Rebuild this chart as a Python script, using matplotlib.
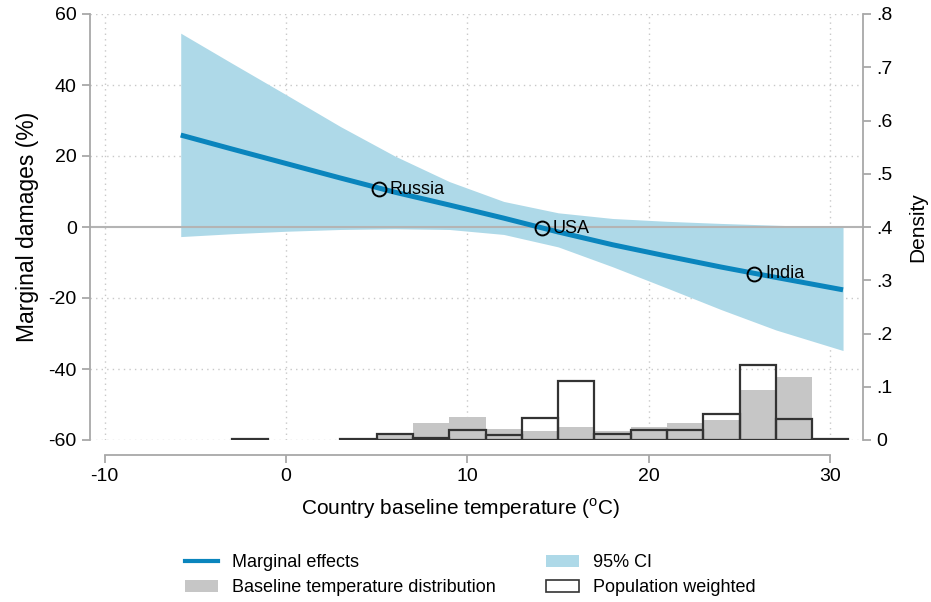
import matplotlib
matplotlib.use("Agg")
import matplotlib.pyplot as plt
from matplotlib.lines import Line2D
from matplotlib.patches import Patch

plt.rcParams['font.family'] = ['Liberation Sans', 'DejaVu Sans']
plt.rcParams['mathtext.fontset'] = 'custom'
plt.rcParams['mathtext.rm'] = 'Liberation Sans'
plt.rcParams['axes.unicode_minus'] = False

# marginal effect curve and 95% CI
temp = [-5.8, -3, 0, 3, 6, 9, 12, 15, 18, 21, 24, 27, 30.7]
effect = [25.9, 22.0, 17.9, 13.8, 9.8, 6.2, 2.5, -1.4, -5.0, -8.2, -11.3, -14.2, -17.7]
ci_upper = [54.6, 46.2, 37.3, 28.3, 20.0, 12.8, 7.2, 4.0, 2.4, 1.6, 1.0, 0.5, -0.1]
ci_lower = [-2.7, -1.9, -1.2, -0.7, -0.5, -0.7, -2.1, -5.6, -11.2, -17.2, -23.3, -29.0, -34.8]

countries = ['Russia', 'USA', 'India']
country_temp = [5.1, 14.1, 25.8]
country_effect = [10.6, -0.4, -13.1]

# histograms, bins of 2 degrees from -3 to 31
bin_left = [-3, -1, 1, 3, 5, 7, 9, 11, 13, 15, 17, 19, 21, 23, 25, 27, 29]
dens_countries = [0.003, 0, 0, 0.003, 0.011, 0.032, 0.044, 0.021, 0.017, 0.024,
                  0.017, 0.024, 0.032, 0.037, 0.093, 0.118, 0.002]
dens_population = [0.002, 0, 0, 0.002, 0.011, 0.004, 0.018, 0.009, 0.042, 0.110,
                   0.011, 0.018, 0.019, 0.048, 0.141, 0.039, 0.002]

blue = '#0a85bd'
ci_blue = '#aed9e8'
axis_gray = '#a8a8a8'
grid_gray = '#c8c8c8'

fig = plt.figure(figsize=(9.31, 6.02), dpi=100)
ax = fig.add_axes([90 / 931, 1 - 440 / 602, (863 - 90) / 931, (440 - 14) / 602])

ax.fill_between(temp, ci_lower, ci_upper, color=ci_blue, lw=0, zorder=1)
ax.axhline(0, color='#b4b4b4', lw=1.5, zorder=2)
ax.plot(temp, effect, color=blue, lw=3.6, zorder=3, solid_capstyle='butt')
ax.plot(country_temp, country_effect, 'o', ms=10, mfc='none', mec='black', mew=1.4, zorder=4)
for name, t, e in zip(countries, country_temp, country_effect):
    ax.annotate(name, (t, e), xytext=(8, 0), textcoords='offset points',
                ha='left', va='center', fontsize=13, zorder=5)

ax.set_xlim(-10.8, 31.8)
ax.set_ylim(-60, 60)
ax.set_xticks([-10, 0, 10, 20, 30])
ax.set_yticks([-60, -40, -20, 0, 20, 40, 60])
for y in [-60, -40, -20, 20, 40, 60]:
    ax.axhline(y, color=grid_gray, lw=1, ls=(0, (1, 3)), zorder=0)
for x in [-10, 0, 10, 20, 30]:
    ax.axvline(x, color=grid_gray, lw=1, ls=(0, (1, 3)), zorder=0)

ax.spines['top'].set_visible(False)
ax.spines['right'].set_visible(False)
ax.spines['bottom'].set_position(('outward', 11))
ax.spines['bottom'].set_bounds(-10, 30)
for s in ['left', 'bottom']:
    ax.spines[s].set_color(axis_gray)
    ax.spines[s].set_linewidth(1.3)
ax.tick_params(direction='out', length=6, width=1.3, color=axis_gray, labelsize=14)
ax.set_xlabel('Country baseline temperature ($^{\\mathrm{o}}$C)', fontsize=15, labelpad=8)
ax.xaxis.label.set_x(0.479)
ax.set_ylabel('Marginal damages (%)', fontsize=16.5, labelpad=7)

# empty bins are left out so no outline is drawn along the baseline
ax2 = ax.twinx()
cb = [(b, d) for b, d in zip(bin_left, dens_countries) if d > 0]
pb = [(b, d) for b, d in zip(bin_left, dens_population) if d > 0]
ax2.bar([b for b, d in cb], [d for b, d in cb], width=2, align='edge',
        color='#c6c6c6', lw=0, zorder=1)
ax2.bar([b for b, d in pb], [d for b, d in pb], width=2, align='edge', facecolor='none',
        edgecolor='#333333', lw=1.6, zorder=2)
ax2.set_ylim(0, 0.8)
ax2.set_yticks([0, 0.1, 0.2, 0.3, 0.4, 0.5, 0.6, 0.7, 0.8])
ax2.set_yticklabels(['0', '.1', '.2', '.3', '.4', '.5', '.6', '.7', '.8'])
for s in ['left', 'top', 'bottom']:
    ax2.spines[s].set_visible(False)
ax2.spines['right'].set_color(axis_gray)
ax2.spines['right'].set_linewidth(1.3)
ax2.tick_params(direction='out', length=6, width=1.3, color=axis_gray, labelsize=14)
ax2.set_ylabel('Density', fontsize=15, labelpad=11)

handles = [Line2D([], [], color=blue, lw=3),
           Patch(facecolor='#c6c6c6', edgecolor='none'),
           Patch(facecolor=ci_blue, edgecolor='none'),
           Patch(facecolor='white', edgecolor='#333333', lw=1.2)]
labels = ['Marginal effects', 'Baseline temperature distribution',
          '95% CI', 'Population weighted']
fig.legend(handles, labels, ncol=2, loc='upper left', bbox_to_anchor=(176 / 931, 1 - 545 / 602),
           frameon=False, fontsize=13, borderpad=0, handlelength=1.83, handleheight=0.65,
           handletextpad=0.78, columnspacing=2.75, labelspacing=0.45)

fig.savefig('out.png', dpi=100)
